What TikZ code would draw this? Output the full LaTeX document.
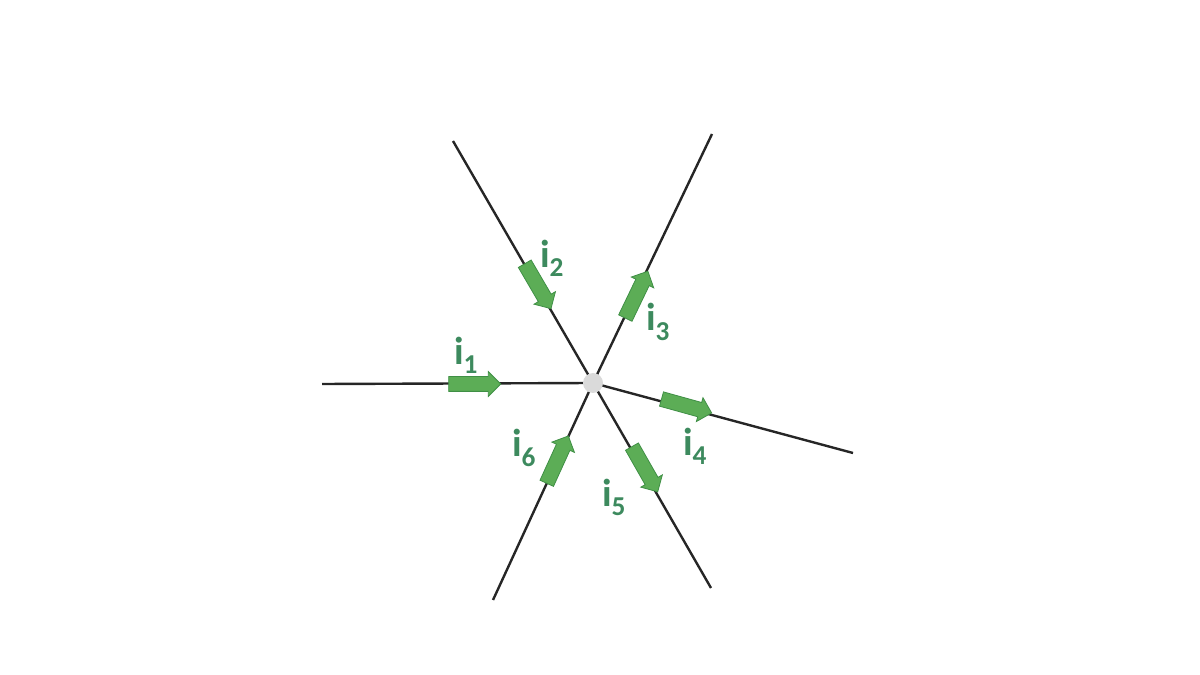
\documentclass[tikz,border=0pt]{standalone}
\usepackage{fontspec}
\setmainfont{Carlito}
\usetikzlibrary{shapes.arrows}
\definecolor{arrowfill}{HTML}{5CAD56}
\definecolor{arrowedge}{HTML}{3F8F45}
\definecolor{labelcol}{HTML}{3D8A5E}
\definecolor{dotcol}{HTML}{DADADA}
\tikzset{
  wire/.style={line width=2.4pt, black!85},
  curarrow/.style={single arrow, fill=arrowfill, draw=arrowedge, line width=0.8pt,
    minimum height=52pt, minimum width=24pt, single arrow head extend=5pt,
    single arrow head indent=0pt, inner xsep=0pt, inner ysep=7pt},
  curlabel/.style={text=labelcol, font=\fontsize{39}{41}\selectfont\bfseries, inner sep=0pt}
}
\begin{document}
\begin{tikzpicture}[x=1pt,y=1pt]
\useasboundingbox (0,0) rectangle (1200,675);
\coordinate (c) at (593,292);
\coordinate (eL) at (322,291);
\coordinate (eUL) at (453,534);
\coordinate (eUR) at (712,541);
\coordinate (eR) at (853,222);
\coordinate (eLR) at (711,87);
\coordinate (eLL) at (493,75);
\draw[wire] (eL) -- (c);
\draw[wire] (eUL) -- (c);
\draw[wire] (eUR) -- (c);
\draw[wire] (eR) -- (c);
\draw[wire] (eLR) -- (c);
\draw[wire] (eLL) -- (c);
\node[circle, fill=dotcol, minimum size=20pt, inner sep=0pt] (junction) at (c) {};
\node[curarrow, rotate=0] (a1) at (471,291) {};
\node[curarrow, rotate=-59.7] (a2) at (536,392) {};
\node[curarrow, rotate=64.3] (a3) at (635,377) {};
\node[curarrow, rotate=-15.5] (a4) at (683,270) {};
\node[curarrow, rotate=-60.3] (a5) at (643,209) {};
\node[curarrow, rotate=65.5] (a6) at (556,212) {};
\node[curlabel] (l1) at (466,320) {i$_{\mathbf{1}}$};
\node[curlabel] (l2) at (552,417) {i$_{\mathbf{2}}$};
\node[curlabel] (l3) at (658,353) {i$_{\mathbf{3}}$};
\node[curlabel] (l4) at (695,229) {i$_{\mathbf{4}}$};
\node[curlabel] (l5) at (614,178) {i$_{\mathbf{5}}$};
\node[curlabel] (l6) at (524,227) {i$_{\mathbf{6}}$};
\end{tikzpicture}
\end{document}
